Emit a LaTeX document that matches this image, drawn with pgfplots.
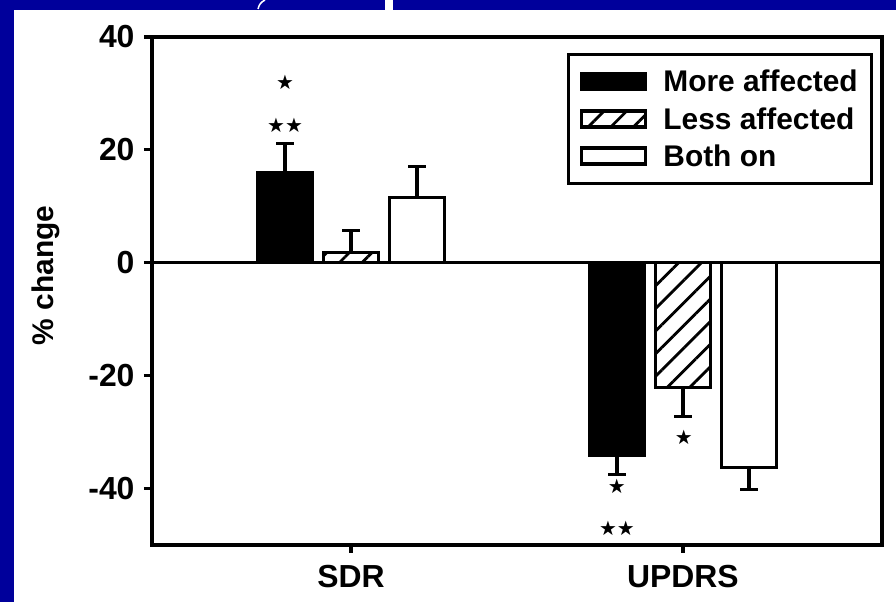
\documentclass[border=0pt]{standalone}
\usepackage{pgfplots}
\pgfplotsset{compat=1.18}
\usepackage{fontspec}
\setmainfont{Liberation Sans}
\newfontfamily\starfont{DejaVu Sans}
\usetikzlibrary{patterns.meta}
\definecolor{slideblue}{RGB}{0,0,155}

\begin{document}
\begin{tikzpicture}[x=1bp,y=1bp]
\fill[slideblue] (-152,-57) rectangle (744,545);
\fill[white] (-138,-57) rectangle (744,535);
\fill[white] (233,535) rectangle (241,545);
\draw[white, line width=1.5bp] (113,545) to[bend right=25] (106,536);
\begin{axis}[
  at={(0,0)}, anchor=south west,
  scale only axis, width=730bp, height=508bp,
  xmin=-0.6, xmax=1.6, ymin=-50, ymax=40,
  ytick={-40,-20,0,20,40},
  yticklabels={-40,-20,0,20,40},
  xtick={0,1}, xticklabels={SDR,UPDRS},
  tick pos=left, tick align=outside, major tick length=8bp,
  every tick/.style={black, line width=3.2bp},
  axis line style={line width=3.2bp},
  tick label style={font=\fontsize{32}{36}\selectfont\bfseries},
  xticklabel style={yshift=-9bp},
  yticklabel style={xshift=-6bp},
  ylabel={\% change},
  ylabel style={font=\fontsize{30}{34}\selectfont\bfseries, at={(axis description cs:-0.145,0.531)}, anchor=center},
  ybar=11bp, bar width=55bp,
  legend style={at={(0.988,0.969)}, anchor=north east, draw=black, line width=3bp,
    font=\fontsize{30}{35}\selectfont\bfseries, inner xsep=12bp, inner ysep=14bp,
    row sep=10bp, /tikz/every odd column/.append style={column sep=14bp}},
  legend cell align=left,
  legend image code/.code={\draw[#1, line width=3.2bp] (0bp,-8bp) rectangle (64bp,8bp);},
  error bars/y dir=both, error bars/y explicit,
  error bars/error mark options={rotate=90, mark size=9bp, line width=3.2bp, black},
  error bars/error bar style={line width=3.2bp, black},
]
\addplot[draw=black, fill=black, line width=3.2bp] coordinates {
  (0,16.0) += (0,5.2) -= (0,0)
  (1,-34.2) += (0,0) -= (0,3.3)
};
\addplot[draw=black, fill=white, line width=3.2bp, pattern={Lines[angle=45, distance=16bp, line width=2.8bp]}] coordinates {
  (0,1.8) += (0,3.9) -= (0,0)
  (1,-22.1) += (0,0) -= (0,5.2)
};
\addplot[draw=black, fill=white, line width=3.2bp] coordinates {
  (0,11.5) += (0,5.5) -= (0,0)
  (1,-36.3) += (0,0) -= (0,3.9)
};
\legend{More affected, Less affected, Both on}
\draw[line width=3.2bp] (axis cs:-0.6,0) -- (axis cs:1.6,0);
\node[font=\starfont\fontsize{20}{20}\selectfont, inner sep=0pt, xshift=-66bp] at (axis cs:0,31.9) {★};
\node[font=\starfont\fontsize{20}{20}\selectfont, inner sep=0pt, xshift=-66bp] at (axis cs:0,24.4) {★★};
\node[font=\starfont\fontsize{20}{20}\selectfont, inner sep=0pt, xshift=-66bp] at (axis cs:1,-39.6) {★};
\node[font=\starfont\fontsize{20}{20}\selectfont, inner sep=0pt, xshift=-66bp] at (axis cs:1,-47.1) {★★};
\node[font=\starfont\fontsize{20}{20}\selectfont, inner sep=0pt, xshift=1bp] at (axis cs:1,-31.0) {★};
\end{axis}
\pgfresetboundingbox
\useasboundingbox (-152,-57) rectangle (744,545);
\end{tikzpicture}
\end{document}
